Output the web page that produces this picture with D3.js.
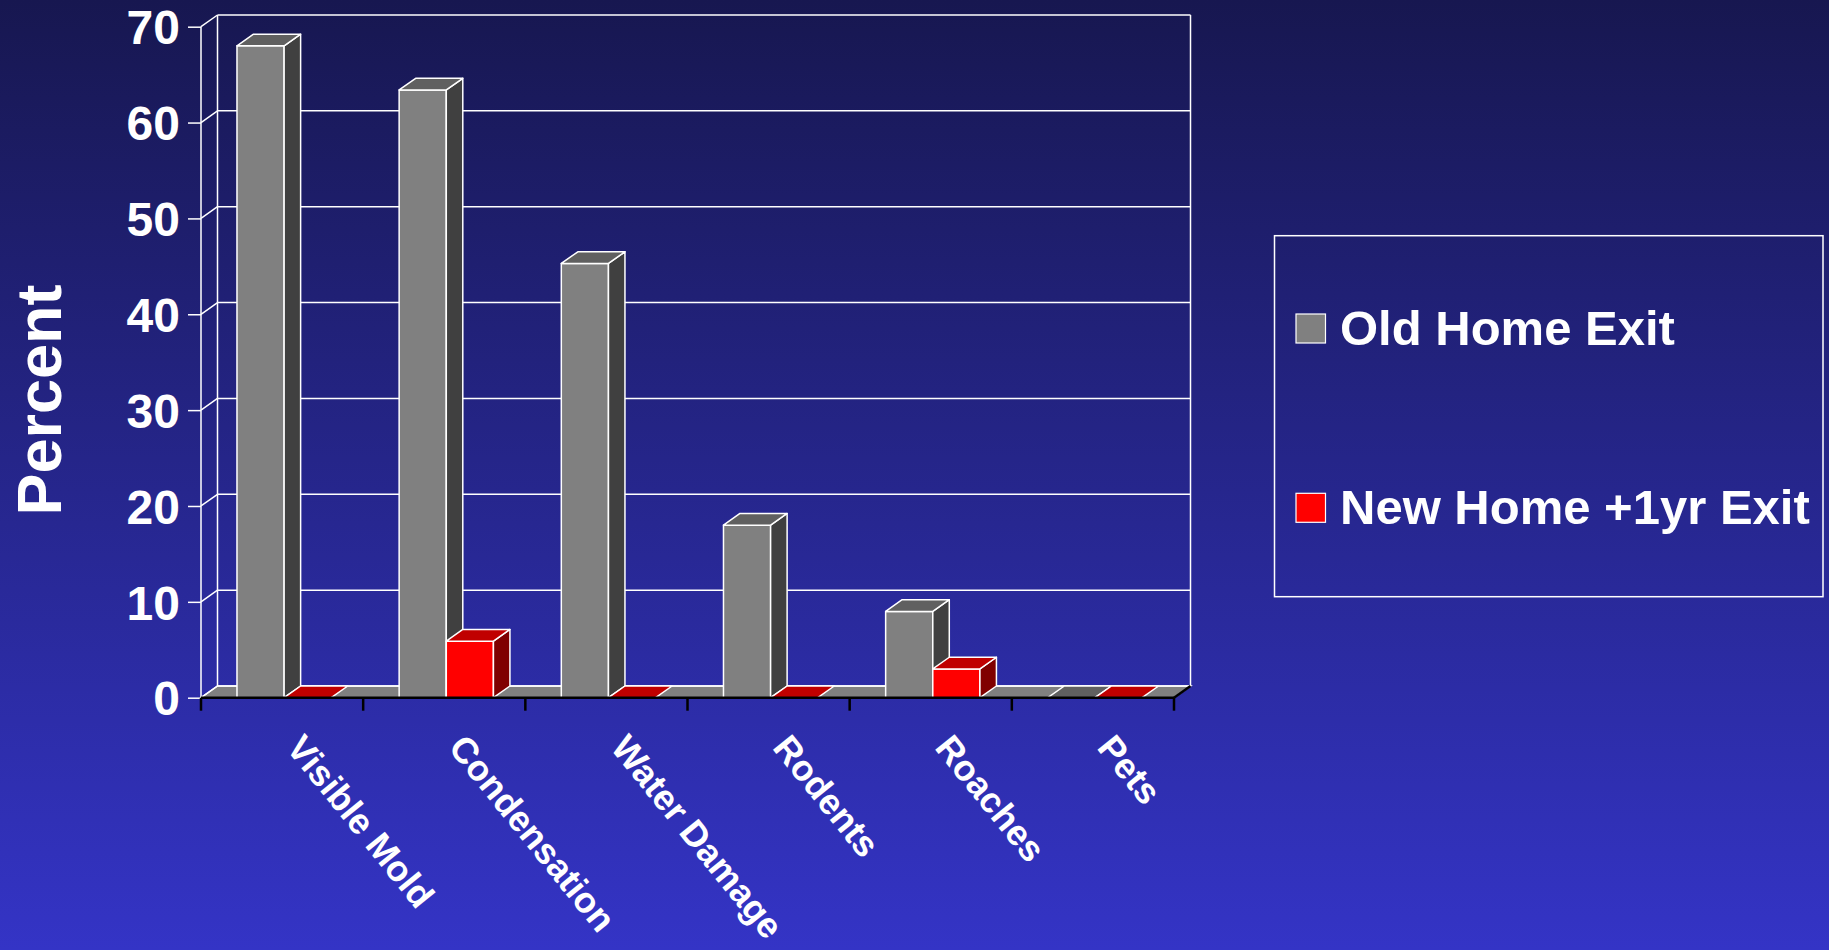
<!DOCTYPE html>
<meta charset="utf-8">
<style>
body { margin: 0; overflow: hidden; }
text { font-family: Arial, "Liberation Sans", sans-serif; font-weight: bold; fill: #fff; }
</style>
<svg width="1829" height="950"></svg>
<script src="https://cdnjs.cloudflare.com/ajax/libs/d3/7.8.5/d3.min.js"></script>
<script>

var categories = ["Visible Mold", "Condensation", "Water Damage", "Rodents", "Roaches", "Pets"];
var seriesNames = ["Old Home Exit", "New Home +1yr Exit"];
var oldHome = [68, 63.4, 45.3, 18, 9, 0];
var newHome = [0, 5.9, 0, 0, 3, 0];
var yTicks = [0, 10, 20, 30, 40, 50, 60, 70];

var svg = d3.select("svg"),
    width = +svg.attr("width"),
    height = +svg.attr("height");

// background gradient
var defs = svg.append("defs");
var grad = defs.append("linearGradient")
    .attr("id", "bg")
    .attr("x1", 0).attr("y1", 0).attr("x2", 0).attr("y2", 1);
grad.append("stop").attr("offset", "0%").attr("stop-color", "#171750");
grad.append("stop").attr("offset", "100%").attr("stop-color", "#3434c6");
svg.append("rect").attr("width", width).attr("height", height).attr("fill", "url(#bg)");

// 3d offsets
var dx = 16.5, dy = 11.7;

var x0 = d3.scaleBand().domain(categories).range([201, 1174]);
var x1 = d3.scaleBand().domain(seriesNames).range([0, x0.bandwidth()])
    .paddingInner(0).paddingOuter(0.72).align(0.53);
var y = d3.scaleLinear().domain([0, 70]).range([697.7, 26.7]);

var colors = {
  "Old Home Exit": { front: "#808080", top: "#606060", side: "#404040" },
  "New Home +1yr Exit": { front: "#ff0000", top: "#c00000", side: "#800000" }
};

var xl = x0.range()[0], xr = x0.range()[1];
var y0 = y(0), yTop = y(70);

// floor
svg.append("path")
    .attr("d", "M" + xl + "," + y0 + "L" + xr + "," + y0 + "L" + (xr + dx) + "," + (y0 - dy) +
      "L" + (xl + dx) + "," + (y0 - dy) + "Z")
    .attr("fill", "#808080")
    .attr("stroke", "#fff").attr("stroke-width", 1.5);

var grid = svg.append("g").attr("stroke", "#fff").attr("stroke-width", 1.5).attr("fill", "none");

// back wall gridlines
grid.selectAll(".back").data(yTicks).enter().append("line")
    .attr("x1", xl + dx).attr("x2", xr + dx)
    .attr("y1", function(d) { return y(d) - dy; })
    .attr("y2", function(d) { return y(d) - dy; });
// side wall gridlines
grid.selectAll(".side").data(yTicks).enter().append("line")
    .attr("x1", xl).attr("x2", xl + dx)
    .attr("y1", function(d) { return y(d); })
    .attr("y2", function(d) { return y(d) - dy; });
// wall edges
grid.append("line").attr("x1", xl).attr("x2", xl).attr("y1", yTop).attr("y2", y0);
grid.append("line").attr("x1", xl + dx).attr("x2", xl + dx).attr("y1", yTop - dy).attr("y2", y0 - dy);
grid.append("line").attr("x1", xr + dx).attr("x2", xr + dx).attr("y1", yTop - dy).attr("y2", y0 - dy);

// y axis
var yAxis = svg.append("g")
    .attr("transform", "translate(" + xl + ",0)")
    .call(d3.axisLeft(y).tickValues(yTicks).tickSize(13).tickPadding(8));
yAxis.select(".domain").remove();
yAxis.selectAll(".tick line").attr("stroke", "#fff").attr("stroke-width", 1.5);
yAxis.selectAll(".tick text")
    .attr("fill", "#fff")
    .attr("dy", "0.36em")
    .style("font-size", "48px")
    .style("font-family", "Arial, 'Liberation Sans', sans-serif")
    .style("font-weight", "bold");

// bars, left to right
var bars = [];
categories.forEach(function(c, i) {
  bars.push({ cat: c, s: seriesNames[0], v: oldHome[i] });
  bars.push({ cat: c, s: seriesNames[1], v: newHome[i] });
});

var bar = svg.append("g").selectAll("g").data(bars).enter().append("g")
    .attr("stroke", "#fff").attr("stroke-width", 1.5).attr("stroke-linejoin", "round");

function barX(d) { return x0(d.cat) + x1(d.s); }
var bw = x1.bandwidth();

bar.append("path")
    .attr("fill", function(d) { return colors[d.s].front; })
    .attr("d", function(d) {
      var a = barX(d), t = y(d.v);
      return "M" + a + "," + y0 + "L" + a + "," + t + "L" + (a + bw) + "," + t + "L" + (a + bw) + "," + y0 + "Z";
    })
    .attr("stroke", function(d) { return d.v > 0 ? "#fff" : "none"; });
bar.append("path")
    .attr("fill", function(d) { return colors[d.s].side; })
    .attr("d", function(d) {
      var a = barX(d) + bw, t = y(d.v);
      return "M" + a + "," + y0 + "L" + a + "," + t + "L" + (a + dx) + "," + (t - dy) + "L" + (a + dx) + "," + (y0 - dy) + "Z";
    })
    .attr("stroke", function(d) { return d.v > 0 ? "#fff" : "none"; });
bar.append("path")
    .attr("fill", function(d) { return colors[d.s].top; })
    .attr("d", function(d) {
      var a = barX(d), t = y(d.v);
      return "M" + a + "," + t + "L" + (a + bw) + "," + t + "L" + (a + bw + dx) + "," + (t - dy) + "L" + (a + dx) + "," + (t - dy) + "Z";
    });

// front axis line and category ticks
var front = svg.append("g").attr("stroke", "#000").attr("stroke-width", 2.5);
front.append("line").attr("x1", xl).attr("x2", xr).attr("y1", y0).attr("y2", y0);
front.append("line").attr("x1", xr).attr("x2", xr + dx).attr("y1", y0).attr("y2", y0 - dy);
var edges = categories.map(function(c) { return x0(c); }).concat([xr]);
front.selectAll(".tk").data(edges).enter().append("line")
    .attr("x1", function(d) { return d; }).attr("x2", function(d) { return d; })
    .attr("y1", y0).attr("y2", y0 + 13);

// category labels
svg.append("g").selectAll("text").data(categories).enter().append("text")
    .attr("transform", function(d) {
      return "translate(" + (x0(d) + x0.bandwidth() / 2 + 3) + ",748) rotate(51)";
    })
    .style("font-size", "36px")
    .text(function(d) { return d; });

// y title
svg.append("text")
    .attr("transform", "translate(61,400) rotate(-90)")
    .attr("text-anchor", "middle")
    .style("font-size", "63px")
    .text("Percent");

// legend
var legend = svg.append("g");
legend.append("rect")
    .attr("x", 1274.5).attr("y", 235.7).attr("width", 548.5).attr("height", 361)
    .attr("fill", "none").attr("stroke", "#fff").attr("stroke-width", 1.5);
var item = legend.selectAll("g").data(seriesNames).enter().append("g")
    .attr("transform", function(d, i) { return "translate(1296," + (314 + i * 179.3) + ")"; });
item.append("rect")
    .attr("width", 29.5).attr("height", 29)
    .attr("fill", function(d) { return colors[d].front; })
    .attr("stroke", "#fff").attr("stroke-width", 1.2);
item.append("text")
    .attr("x", 44).attr("y", 30.5)
    .style("font-size", "49px")
    .text(function(d) { return d; });

</script>
